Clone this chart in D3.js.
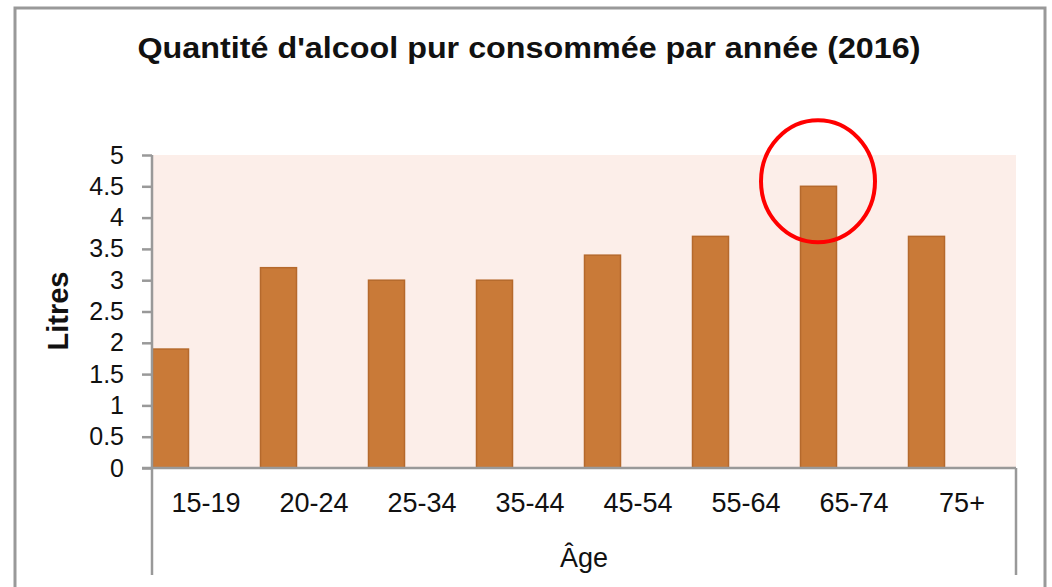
<!DOCTYPE html>
<html><head><meta charset="utf-8">
<script src="https://cdn.jsdelivr.net/npm/d3@7"></script>
<style>body{margin:0;background:#fff;font-family:"Liberation Sans",Arial,sans-serif}</style>
</head><body><svg id="c" width="1052" height="587"></svg>
<script>
const categories = ["15-19","20-24","25-34","35-44","45-54","55-64","65-74","75+"];
const values = [1.9,3.2,3.0,3.0,3.4,3.7,4.5,3.7];
const yTicks = [0,0.5,1,1.5,2,2.5,3,3.5,4,4.5,5];
const highlight = "65-74";
const title = "Quantité d'alcool pur consommée par année (2016)";
const yTitle = "Litres", xTitle = "Âge";

const svg = d3.select("#c");
const m = {left:152, right:1016, top:155, bottom:468};
svg.append("rect").attr("x",15).attr("y",8).attr("width",1030).attr("height",600)
  .attr("fill","#fff").attr("stroke","#999").attr("stroke-width",3);

const x = d3.scaleBand().domain(categories).range([m.left,m.right]);
const y = d3.scaleLinear().domain([0,5]).range([m.bottom,m.top]);

svg.append("rect").attr("x",m.left).attr("y",m.top).attr("width",m.right-m.left)
  .attr("height",m.bottom-m.top).attr("fill","#FCEEE9");

svg.append("g").selectAll("rect").data(values).join("rect")
  .attr("x",(d,i)=>x(categories[i])+0.5).attr("y",d=>y(d))
  .attr("width",x.bandwidth()/3).attr("height",d=>m.bottom-y(d))
  .attr("fill","#C97A38").attr("stroke","#B5692C").attr("stroke-width",1.5);

const font = "Liberation Sans, Arial, sans-serif";
// y axis
const ya = svg.append("g").attr("transform",`translate(${m.left},0)`)
  .call(d3.axisLeft(y).tickValues(yTicks).tickSize(10).tickPadding(18).tickFormat(d3.format("")));
ya.select(".domain").attr("stroke","#999").attr("stroke-width",2.5).attr("d",`M0,${m.top}V${m.bottom}`);
ya.selectAll(".tick line").attr("stroke","#999").attr("stroke-width",2.5);
ya.selectAll("text").attr("font-size",25).attr("fill","#111").attr("font-family",font);

// x axis
const xa = svg.append("g").attr("transform",`translate(0,${m.bottom})`)
  .call(d3.axisBottom(x).tickSize(0).tickPadding(25));
xa.select(".domain").attr("stroke","#999").attr("stroke-width",2.5).attr("d",`M${m.left-10},0H${m.right}`);
xa.selectAll("text").attr("font-size",27).attr("fill","#111").attr("font-family",font);
svg.append("g").selectAll("line").data([m.left,m.right]).join("line")
  .attr("x1",d=>d).attr("x2",d=>d).attr("y1",m.bottom).attr("y2",575)
  .attr("stroke","#999").attr("stroke-width",2.5);

svg.append("text").attr("x",529).attr("y",58).attr("text-anchor","middle")
  .attr("font-size",29).attr("font-weight","bold").attr("fill","#111")
  .attr("textLength",783).attr("lengthAdjust","spacingAndGlyphs").text(title);
svg.append("text").attr("transform","translate(68,311) rotate(-90)").attr("text-anchor","middle")
  .attr("font-size",29).attr("font-weight","bold").attr("fill","#111").text(yTitle);
svg.append("text").attr("x",(m.left+m.right)/2).attr("y",567).attr("text-anchor","middle")
  .attr("font-size",27).attr("fill","#111").text(xTitle);

// highlight circle
const hi = categories.indexOf(highlight);
svg.append("ellipse").attr("cx",x(highlight)+x.bandwidth()/6).attr("cy",y(values[hi])-5)
  .attr("rx",57).attr("ry",61).attr("fill","none").attr("stroke","#f00").attr("stroke-width",4);
</script></body></html>
